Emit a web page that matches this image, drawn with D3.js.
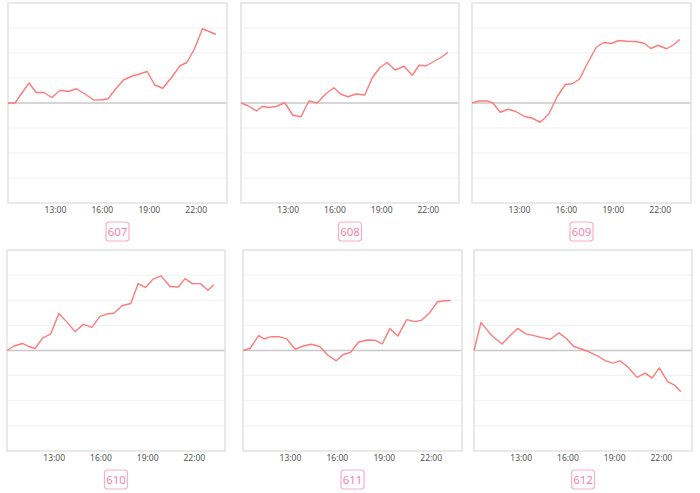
<!DOCTYPE html>
<html>
<head>
<meta charset="utf-8">
<script src="https://cdn.jsdelivr.net/npm/d3@7"></script>
<style>
  html, body { margin: 0; padding: 0; background: #fff; }
  svg { display: block; font-family: "Noto Sans", "Open Sans", sans-serif; }
</style>
</head>
<body>
<svg id="chart" width="700" height="493"></svg>
<script>
// ---- data ----
const times = ["10:00","10:27","11:00","11:21","11:48","12:18","12:48","13:20","13:51","14:22",
               "14:54","15:27","15:58","16:24","16:52","17:23","17:57","18:25","18:54","19:23",
               "19:54","20:28","21:00","21:26","21:54","22:26","22:54","23:17"];
const tickLabels = ["13:00","16:00","19:00","22:00"];
const panelNames = ["607","608","609","610","611","612"];
const s607 = [0,0,0.5,0.8,0.42,0.42,0.22,0.51,0.46,0.57,0.37,0.13,0.12,0.17,0.55,0.92,1.08,1.16,1.26,0.72,0.59,1.03,1.49,1.62,2.14,2.97,2.85,2.74];
const s608 = [0,-0.11,-0.32,-0.14,-0.18,-0.13,0.01,-0.49,-0.55,0.08,0,0.37,0.61,0.36,0.25,0.36,0.32,0.99,1.41,1.62,1.32,1.47,1.11,1.51,1.49,1.68,1.84,2.03];
const s609 = [0,0.08,0.08,-0.01,-0.37,-0.25,-0.34,-0.53,-0.61,-0.77,-0.45,0.26,0.74,0.77,0.95,1.59,2.23,2.42,2.38,2.5,2.47,2.46,2.39,2.18,2.31,2.17,2.33,2.54];
const s610 = [0,0.18,0.28,0.17,0.08,0.5,0.65,1.47,1.13,0.75,1.04,0.92,1.36,1.45,1.48,1.78,1.87,2.66,2.51,2.84,2.97,2.55,2.53,2.86,2.66,2.66,2.4,2.62];
const s611 = [0,0.08,0.59,0.46,0.55,0.55,0.46,0.05,0.18,0.25,0.16,-0.2,-0.41,-0.16,-0.08,0.33,0.42,0.41,0.26,0.87,0.58,1.23,1.15,1.21,1.48,1.94,1.98,1.99];
const s612 = [0,1.12,0.69,0.49,0.26,0.58,0.88,0.66,0.59,0.51,0.45,0.7,0.46,0.16,0.07,-0.05,-0.22,-0.4,-0.5,-0.41,-0.67,-1.07,-0.9,-1.1,-0.69,-1.24,-1.39,-1.64];
const seriesList = [s607, s608, s609, s610, s611, s612];
const gridValues = [-3,-2,-1,1,2,3];

// ---- layout ----
const boxes = [
  {x0: 8,   x1: 227, y0: 3,   y1: 203},
  {x0: 241, x1: 459, y0: 3,   y1: 203},
  {x0: 472, x1: 691, y0: 3,   y1: 203},
  {x0: 7,   x1: 225, y0: 250, y1: 451},
  {x0: 243, x1: 462, y0: 250, y1: 451},
  {x0: 474, x1: 692, y0: 250, y1: 451}
];

const parse = d3.timeParse("%H:%M");
const t0 = parse("10:00");
const t1 = d3.timeHour.offset(t0, 14);
const svg = d3.select("#chart");

boxes.forEach((b, i) => {
  const x = d3.scaleTime().domain([t0, t1]).range([b.x0, b.x1]);
  const y = d3.scaleLinear().domain([-4, 4]).range([b.y1, b.y0]);
  const g = svg.append("g");

  // grid lines
  g.selectAll("line.grid").data(gridValues).enter().append("line")
    .attr("x1", b.x0).attr("x2", b.x1)
    .attr("y1", d => y(d)).attr("y2", d => y(d))
    .attr("stroke", "#f1f1f1").attr("stroke-width", 1);

  // zero line
  g.append("line")
    .attr("x1", b.x0).attr("x2", b.x1)
    .attr("y1", y(0)).attr("y2", y(0))
    .attr("stroke", "#c8c8c8").attr("stroke-width", 1.5);

  // border
  g.append("rect")
    .attr("x", b.x0).attr("y", b.y0)
    .attr("width", b.x1 - b.x0).attr("height", b.y1 - b.y0)
    .attr("fill", "none").attr("stroke", "#e2e2e2").attr("stroke-width", 1.5);

  // x axis
  const axis = d3.axisBottom(x)
    .tickValues(tickLabels.map(parse))
    .tickFormat(d3.timeFormat("%H:%M"))
    .tickSize(0).tickPadding(4);
  const ag = g.append("g").attr("transform", `translate(0,${b.y1})`).call(axis);
  ag.select(".domain").remove();
  ag.selectAll("text").attr("fill", "#555").attr("font-size", "8.5px")
    .attr("font-family", "\"Noto Sans\", sans-serif");

  // line
  const data = times.map((t, k) => ({t: parse(t), v: seriesList[i][k]}));
  g.append("path").datum(data)
    .attr("fill", "none").attr("stroke", "#ff7b7b").attr("stroke-width", 1.4)
    .attr("stroke-linejoin", "round")
    .attr("d", d3.line().x(d => x(d.t)).y(d => y(d.v)));

  // label box
  const cx = (b.x0 + b.x1) / 2;
  const cy = b.y1 + 28.5;
  g.append("rect")
    .attr("x", cx - 11.5).attr("y", cy - 9.5)
    .attr("width", 23).attr("height", 19).attr("rx", 3)
    .attr("fill", "#fff").attr("stroke", "#f7b0c6").attr("stroke-width", 1.2);
  g.append("text")
    .attr("x", cx).attr("y", cy).attr("dy", "0.36em")
    .attr("text-anchor", "middle")
    .attr("font-size", "11.5px").attr("fill", "#f384a8")
    .text(panelNames[i]);
});
</script>
</body>
</html>
